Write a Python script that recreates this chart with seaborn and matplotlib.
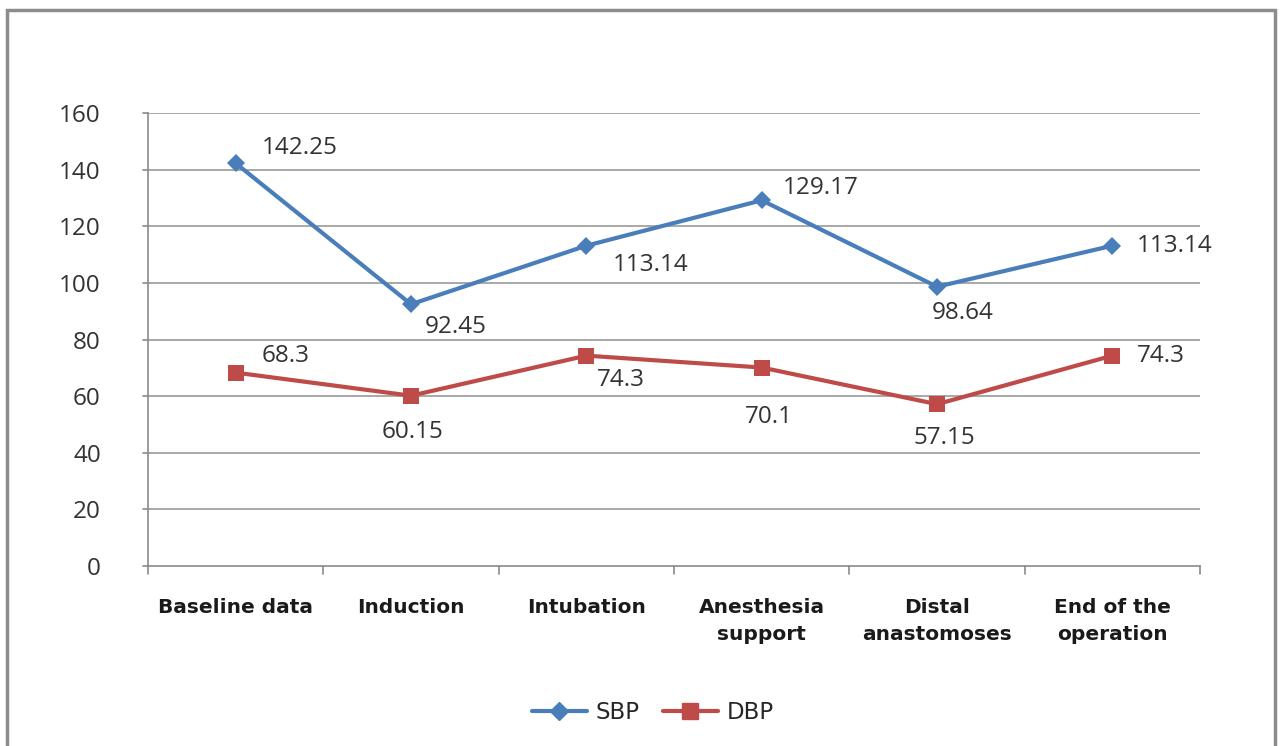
import matplotlib
matplotlib.use("Agg")
import matplotlib.pyplot as plt
import seaborn as sns
import pandas as pd
from matplotlib.patches import Rectangle
from matplotlib.lines import Line2D

stages = ["Baseline data", "Induction", "Intubation", "Anesthesia\nsupport",
          "Distal\nanastomoses", "End of the\noperation"]
sbp = [142.25, 92.45, 113.14, 129.17, 98.64, 113.14]
dbp = [68.3, 60.15, 74.3, 70.1, 57.15, 74.3]
sbp_labels = ["142.25", "92.45", "113.14", "129.17", "98.64", "113.14"]
dbp_labels = ["68.3", "60.15", "74.3", "70.1", "57.15", "74.3"]
yticks = [0, 20, 40, 60, 80, 100, 120, 140, 160]

sns.set_theme(style="white")
plt.rcParams["font.family"] = ["DejaVu Sans"]

blue = "#4A7EBB"
red = "#BE4B48"

df = pd.DataFrame({
    "pos": list(range(len(stages))) * 2,
    "value": sbp + dbp,
    "series": ["SBP"] * len(sbp) + ["DBP"] * len(dbp),
})

fig = plt.figure(figsize=(12.85, 7.46), dpi=100)
ax = fig.add_axes([0.1152, 0.2413, 0.8187, 0.6072])

sns.lineplot(data=df, x="pos", y="value", hue="series", style="series",
             palette={"SBP": blue, "DBP": red},
             markers={"SBP": "D", "DBP": "s"}, dashes=False,
             markersize=10, linewidth=3, markeredgewidth=0,
             ax=ax, legend=False)
# diamond a touch smaller than the square
for line in ax.lines:
    if line.get_marker() == "D":
        line.set_markersize(9)
    else:
        line.set_markersize(12)

ax.set_xlim(-0.5, len(stages) - 0.5)
ax.set_ylim(0, 160)
ax.set_yticks(yticks)
ax.set_yticklabels([str(t) for t in yticks], fontsize=17.5, color="#333333",
                   family="Open Sans")
ax.set_xticks(range(len(stages)))
ax.set_xticklabels(stages, fontsize=14.5, fontweight="bold", color="#1a1a1a",
                   linespacing=1.55)
ax.tick_params(axis="x", length=0, pad=23)
ax.tick_params(axis="y", length=0, pad=34)
ax.set_xlabel("")
ax.set_ylabel("")

# gridlines and outward tick marks on category boundaries
for t in yticks[1:]:
    ax.axhline(t, color="#9a9a9a", lw=1.2, zorder=0)
for s in ["top", "right"]:
    ax.spines[s].set_visible(False)
for s in ["left", "bottom"]:
    ax.spines[s].set_color("#8a8a8a")
    ax.spines[s].set_linewidth(1.2)
for b in [i - 0.5 for i in range(len(stages) + 1)]:
    ax.plot([b, b], [0, -3], color="#8a8a8a", lw=1.2, clip_on=False)
for t in yticks:
    ax.plot([-0.5, -0.53], [t, t], color="#8a8a8a", lw=1.2, clip_on=False)

# value labels
label_font = dict(fontsize=17.5, color="#333333", family="Open Sans")
sbp_off = [(0.15, 5.5), (0.08, -8), (0.153, -6.8), (0.122, 4.4), (-0.028, -9.2), (0.142, 0)]
for i, (v, lab) in enumerate(zip(sbp, sbp_labels)):
    dx, dy = sbp_off[i]
    ax.text(i + dx, v + dy, lab, ha="left", va="center", **label_font)
dbp_off = [(0.15, 5.9), (-0.165, -12.8), (0.061, -8.6), (-0.094, -17.5), (-0.136, -11.9), (0.142, 0)]
for i, (v, lab) in enumerate(zip(dbp, dbp_labels)):
    dx, dy = dbp_off[i]
    ax.text(i + dx, v + dy, lab, ha="left", va="center", **label_font)

# legend
handles = [Line2D([], [], color=blue, lw=3, marker="D", markersize=9),
           Line2D([], [], color=red, lw=3, marker="s", markersize=12)]
fig.legend(handles, ["SBP", "DBP"], loc="center", bbox_to_anchor=(0.508, 0.045),
           ncol=2, frameon=False, fontsize=16.5, handlelength=2.4,
           columnspacing=1.0, handletextpad=0.4)

# outer chart border
fig.patches.append(Rectangle((7 / 1285, -0.01), 1268 / 1285, 1 - 10 / 746 + 0.01,
                             transform=fig.transFigure, fill=False,
                             edgecolor="#8c8c8c", lw=2.5))

fig.savefig("out.png", dpi=100)
